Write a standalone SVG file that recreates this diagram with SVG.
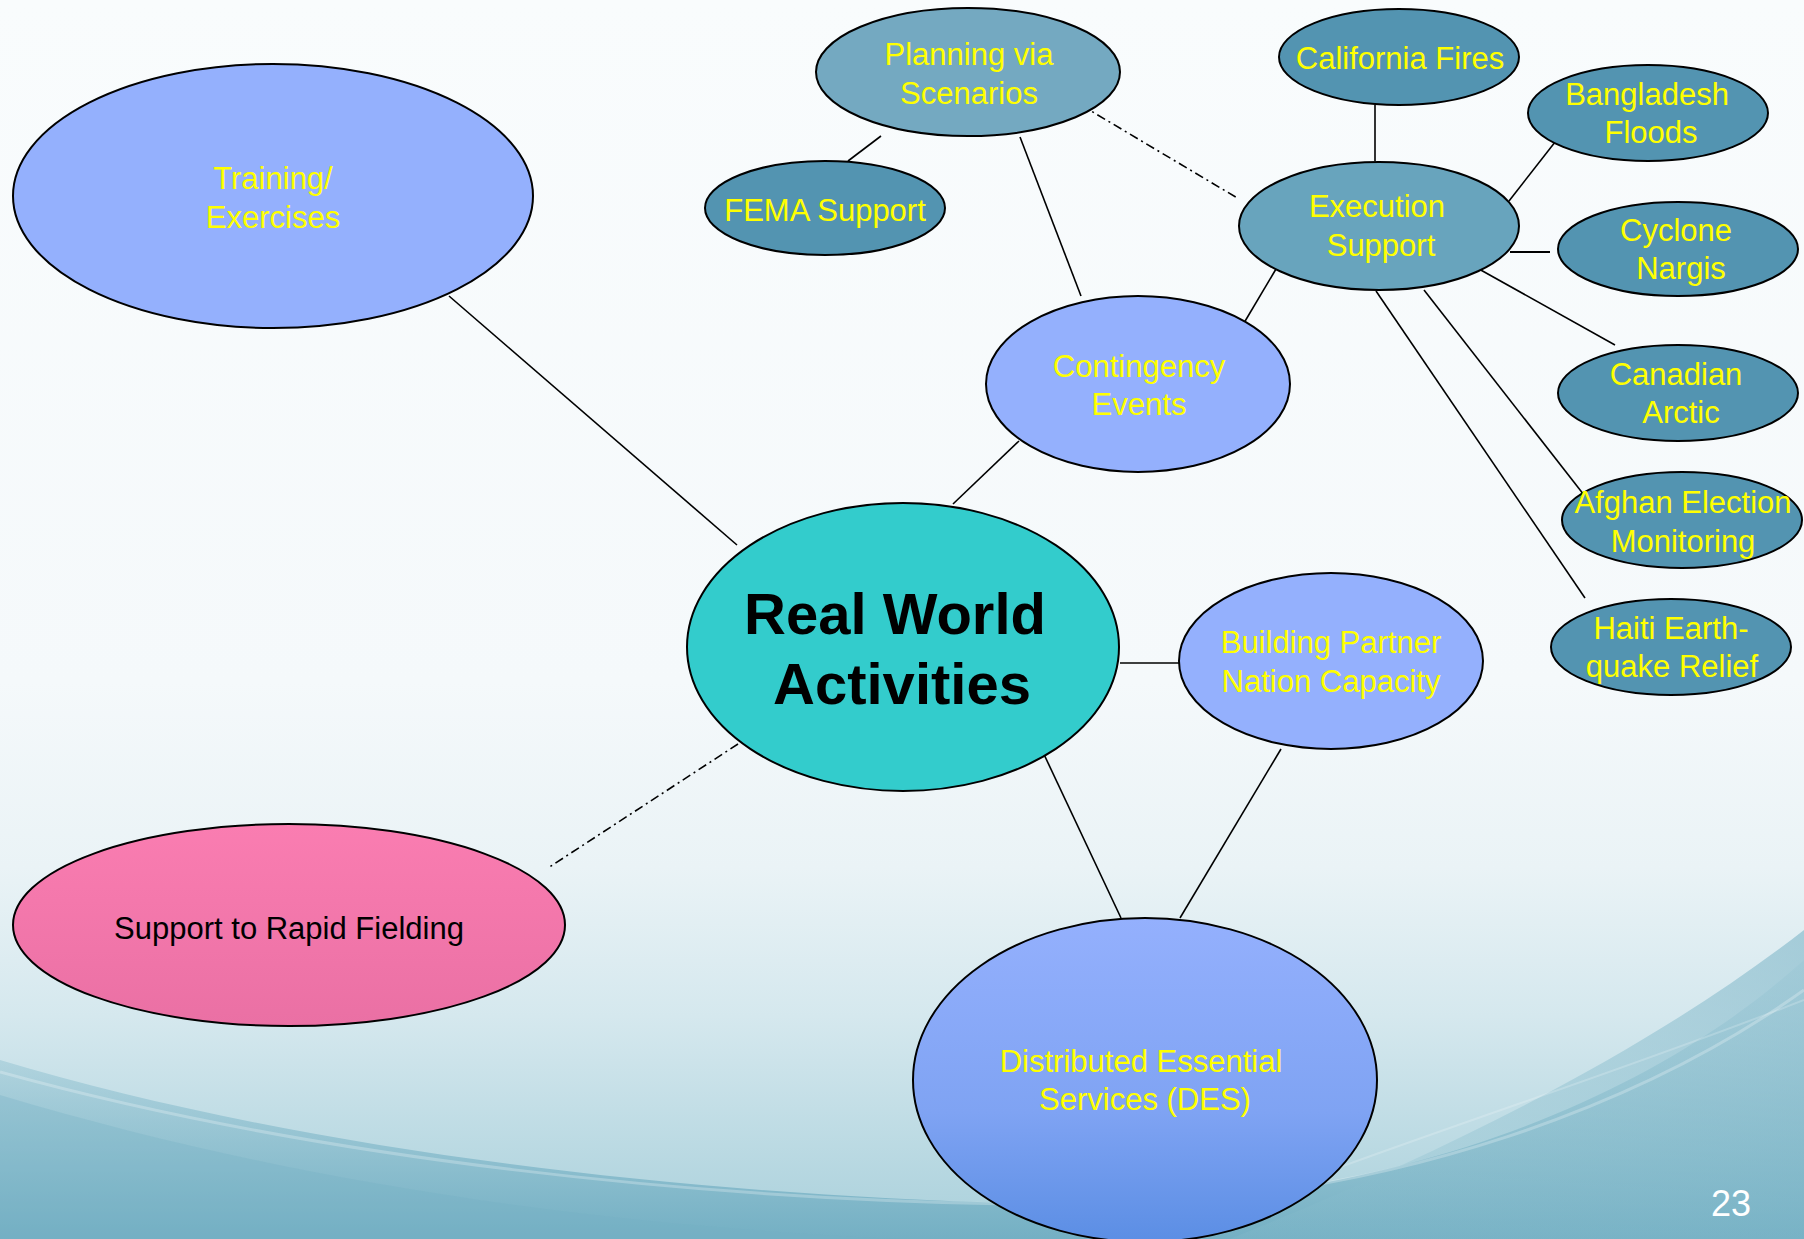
<svg xmlns="http://www.w3.org/2000/svg" width="1804" height="1239" viewBox="0 0 1804 1239">
<defs>
<linearGradient id="bg" x1="0" y1="0" x2="0" y2="1">
<stop offset="0" stop-color="#f9fcfd"/>
<stop offset="0.55" stop-color="#f5f9fb"/>
<stop offset="0.7" stop-color="#eaf3f6"/>
<stop offset="0.82" stop-color="#d5e8ee"/>
<stop offset="1" stop-color="#a9d0db"/>
</linearGradient>
<linearGradient id="wave" x1="0" y1="0" x2="0" y2="1">
<stop offset="0" stop-color="#9ac7d4" stop-opacity="0.15"/>
<stop offset="1" stop-color="#6eacc1" stop-opacity="0.9"/>
</linearGradient>
<linearGradient id="wave2" x1="1" y1="0" x2="0" y2="1">
<stop offset="0" stop-color="#72afc3" stop-opacity="0.9"/>
<stop offset="1" stop-color="#8cc0cf" stop-opacity="0.3"/>
</linearGradient>
<linearGradient id="des" x1="0" y1="0" x2="0" y2="1">
<stop offset="0" stop-color="#94b0fd"/>
<stop offset="0.6" stop-color="#7fa3f3"/>
<stop offset="1" stop-color="#5b8ee4"/>
</linearGradient>
<linearGradient id="pink" x1="0" y1="0" x2="0" y2="1">
<stop offset="0" stop-color="#fa7db1"/>
<stop offset="1" stop-color="#ea70a4"/>
</linearGradient>
</defs>
<style>
.n{stroke:#000;stroke-width:2}
.lav{fill:#94b0fd}
.dk{fill:#5394b1}
.t{font-family:"Liberation Sans",Arial,sans-serif;font-size:31px;fill:#ffff00;text-anchor:middle}
.c line{stroke:#000;stroke-width:1.6}
.dd{stroke-dasharray:9 4 2 4}
</style>
<rect width="1804" height="1239" fill="url(#bg)"/>
<path d="M0,1060 C300,1150 700,1200 1100,1205 C1400,1200 1650,1100 1804,960 L1804,1239 L0,1239 Z" fill="url(#wave)"/>
<path d="M0,1095 C300,1185 600,1225 900,1239 L0,1239 Z" fill="#74b0c3" opacity="0.3"/>
<path d="M1804,930 C1650,1050 1450,1150 1230,1239 L1804,1239 Z" fill="url(#wave2)" opacity="0.6"/>
<path d="M0,1072 C300,1155 700,1205 1100,1205 C1400,1200 1650,1100 1804,990" fill="none" stroke="#ffffff" stroke-opacity="0.25" stroke-width="3"/>
<path d="M1804,1000 C1600,1080 1400,1140 1150,1239" fill="none" stroke="#ffffff" stroke-opacity="0.2" stroke-width="2"/>

<g class="c">
<line x1="449" y1="296" x2="737" y2="545"/>
<line x1="881" y1="136" x2="848" y2="161"/>
<line x1="1020" y1="137" x2="1081" y2="296"/>
<line class="dd" x1="1081" y1="105" x2="1239" y2="199"/>
<line x1="1375" y1="105" x2="1375" y2="161"/>
<line x1="1559" y1="137" x2="1509" y2="201"/>
<line x1="1510" y1="252" x2="1550" y2="252" style="stroke-width:2.2"/>
<line x1="1470" y1="264" x2="1615" y2="345"/>
<line x1="1424" y1="290" x2="1584" y2="495"/>
<line x1="1376" y1="291" x2="1585" y2="598"/>
<line x1="1279" y1="264" x2="1241" y2="328"/>
<line x1="1019" y1="441" x2="953" y2="504"/>
<line x1="1120" y1="663" x2="1179" y2="663"/>
<line x1="1041" y1="748" x2="1121" y2="918"/>
<line x1="1281" y1="749" x2="1180" y2="918"/>
<line class="dd" x1="738" y1="744" x2="548" y2="868"/>
</g>

<g id="training"><ellipse class="n lav" cx="273" cy="196" rx="260" ry="132"/>
<text class="t" x="273" y="189">Training/</text><text class="t" x="273" y="228">Exercises</text></g>

<g id="planning"><ellipse class="n" fill="#74a9c1" cx="968" cy="72" rx="152" ry="64"/>
<text class="t" x="969" y="65">Planning via</text><text class="t" x="969" y="104">Scenarios</text></g>

<g id="fema"><ellipse class="n dk" cx="825" cy="208" rx="120" ry="47"/>
<text class="t" x="825" y="221">FEMA Support</text></g>

<g id="california"><ellipse class="n dk" cx="1399" cy="57" rx="120" ry="48"/>
<text class="t" x="1400" y="69">California Fires</text></g>

<g id="bangladesh"><ellipse class="n dk" cx="1648" cy="113" rx="120" ry="48"/>
<text class="t" x="1647" y="105">Bangladesh</text><text class="t" x="1651" y="143">Floods</text></g>

<g id="execution"><ellipse class="n" fill="#68a4bd" cx="1379" cy="226" rx="140" ry="64"/>
<text class="t" x="1377" y="217">Execution</text><text class="t" x="1381" y="256">Support</text></g>

<g id="cyclone"><ellipse class="n dk" cx="1678" cy="249" rx="120" ry="47"/>
<text class="t" x="1676" y="241">Cyclone</text><text class="t" x="1681" y="279">Nargis</text></g>

<g id="canadian"><ellipse class="n dk" cx="1678" cy="393" rx="120" ry="48"/>
<text class="t" x="1676" y="385">Canadian</text><text class="t" x="1681" y="423">Arctic</text></g>

<g id="afghan"><ellipse class="n dk" cx="1682" cy="520" rx="120" ry="48"/>
<text class="t" x="1683" y="513">Afghan Election</text><text class="t" x="1683" y="552">Monitoring</text></g>

<g id="haiti"><ellipse class="n dk" cx="1671" cy="647" rx="120" ry="48"/>
<text class="t" x="1671" y="639">Haiti Earth-</text><text class="t" x="1672" y="677">quake Relief</text></g>

<g id="contingency"><ellipse class="n lav" cx="1138" cy="384" rx="152" ry="88"/>
<text class="t" x="1139" y="377">Contingency</text><text class="t" x="1139" y="415">Events</text></g>

<g id="rwa"><ellipse class="n" fill="#33cccc" cx="903" cy="647" rx="216" ry="144"/>
<text x="895" y="634" style="font-family:'Liberation Sans',Arial,sans-serif;font-size:58px;font-weight:bold;fill:#000;text-anchor:middle">Real World</text>
<text x="902" y="704" style="font-family:'Liberation Sans',Arial,sans-serif;font-size:58px;font-weight:bold;fill:#000;text-anchor:middle">Activities</text></g>

<g id="bpnc"><ellipse class="n lav" cx="1331" cy="661" rx="152" ry="88"/>
<text class="t" x="1331" y="653">Building Partner</text><text class="t" x="1331" y="692">Nation Capacity</text></g>

<g id="des"><ellipse class="n" fill="url(#des)" cx="1145" cy="1080" rx="232" ry="162"/>
<text class="t" x="1141" y="1072">Distributed Essential</text><text class="t" x="1145" y="1110">Services (DES)</text></g>

<g id="rapid"><ellipse class="n" fill="url(#pink)" cx="289" cy="925" rx="276" ry="101"/>
<text class="t" x="289" y="939" style="fill:#000">Support to Rapid Fielding</text></g>

<text x="1731" y="1216" style="font-family:'Liberation Sans',Arial,sans-serif;font-size:36px;fill:#fff;text-anchor:middle">23</text>
</svg>
